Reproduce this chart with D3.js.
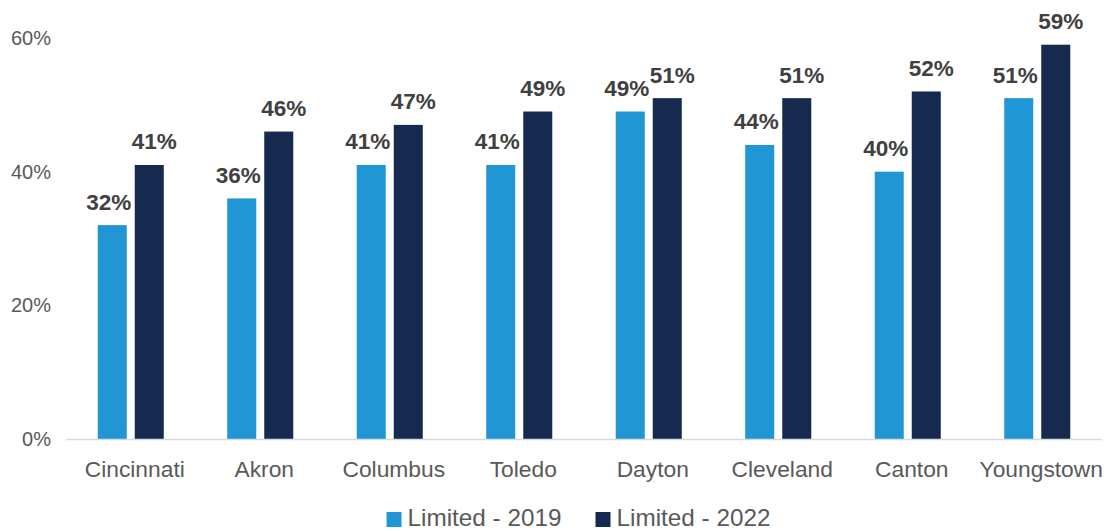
<!DOCTYPE html>
<html>
<head>
<meta charset="utf-8">
<script src="https://cdn.jsdelivr.net/npm/d3@7"></script>
<style>
  html, body { margin: 0; padding: 0; background: #fff; }
  svg { display: block; font-family: "Liberation Sans", Arial, sans-serif; }
</style>
</head>
<body>
<svg id="chart" width="1108" height="531"></svg>
<script>
// Share of population with limited access, by city and year (%)
const cities = ["Cincinnati", "Akron", "Columbus", "Toledo", "Dayton", "Cleveland", "Canton", "Youngstown"];
const seriesNames = ["Limited - 2019", "Limited - 2022"];
const values2019 = [32, 36, 41, 41, 49, 44, 40, 51];
const values2022 = [41, 46, 47, 49, 51, 51, 52, 59];
const yTicks = [0, 20, 40, 60];
const colors = ["#2196d4", "#162a50"];

const seriesValues = [values2019, values2022];
const rows = cities.map((c, i) => ({
  city: c,
  vals: seriesNames.map((s, j) => ({ series: s, idx: j, value: seriesValues[j][i] }))
}));

const svg = d3.select("#chart");
const plotLeft = 66, plotRight = 1102, plotTop = 38, plotBottom = 439;

const x = d3.scaleBand().domain(cities).range([plotLeft, plotRight])
  .paddingInner(0.49).paddingOuter(0.245);
const xs = d3.scaleBand().domain(seriesNames).range([0, x.bandwidth()])
  .paddingInner(0.216).paddingOuter(0);
const y = d3.scaleLinear().domain([0, 60]).range([plotBottom, plotTop]);

// y axis labels (no axis line, no gridlines)
const yAxis = d3.axisLeft(y).tickValues(yTicks).tickFormat(d => d + "%").tickSize(0).tickPadding(0);
svg.append("g")
  .attr("transform", `translate(51,0)`)
  .call(yAxis)
  .call(g => g.select(".domain").remove())
  .call(g => g.selectAll("text")
    .attr("fill", "#595959")
    .attr("font-size", 20)
    .attr("font-family", "Liberation Sans, Arial, sans-serif"));

// bars
const groups = svg.append("g").selectAll("g").data(rows).join("g")
  .attr("transform", d => `translate(${x(d.city)},0)`);

groups.selectAll("rect").data(d => d.vals).join("rect")
  .attr("x", d => xs(d.series))
  .attr("y", d => y(d.value))
  .attr("width", xs.bandwidth())
  .attr("height", d => y(0) - y(d.value))
  .attr("fill", d => colors[d.idx]);

// value labels
const labelShift = [-3.5, 5];
groups.selectAll("text.val").data(d => d.vals).join("text")
  .attr("class", "val")
  .attr("x", d => xs(d.series) + xs.bandwidth() / 2 + labelShift[d.idx])
  .attr("y", d => y(d.value) - 15.5)
  .attr("text-anchor", "middle")
  .attr("font-size", 22.5)
  .attr("font-weight", "bold")
  .attr("fill", "#404040")
  .text(d => d.value + "%");

// baseline
svg.append("line")
  .attr("x1", plotLeft).attr("x2", plotRight)
  .attr("y1", y(0) + 0.5).attr("y2", y(0) + 0.5)
  .attr("stroke", "#d9d9d9").attr("stroke-width", 1.5);

// category labels
const xAxis = d3.axisBottom(x).tickSize(0).tickPadding(0);
svg.append("g")
  .attr("transform", `translate(4,${plotBottom + 22})`)
  .call(xAxis)
  .call(g => g.select(".domain").remove())
  .call(g => g.selectAll("text")
    .attr("fill", "#595959")
    .attr("font-size", 22.8)
    .attr("dy", "0.71em")
    .attr("y", 0)
    .attr("font-family", "Liberation Sans, Arial, sans-serif"));

// legend
const legend = svg.append("g");
const items = legend.selectAll("g").data(seriesNames).join("g");
items.append("rect")
  .attr("width", 15).attr("height", 15)
  .attr("y", 512)
  .attr("fill", (d, i) => colors[i]);
items.append("text")
  .attr("x", 21).attr("y", 526)
  .attr("font-size", 24.3)
  .attr("fill", "#595959")
  .text(d => d);
let cursor = 0;
const gap = 34;
items.each(function () {
  const g = d3.select(this);
  g.attr("transform", `translate(${cursor},0)`);
  cursor += 21 + g.select("text").node().getComputedTextLength() + gap;
});
const total = cursor - gap;
legend.attr("transform", `translate(${578.5 - total / 2},0)`);
</script>
</body>
</html>
